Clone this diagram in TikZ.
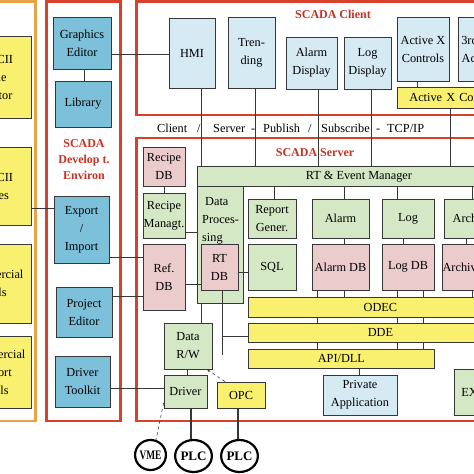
\documentclass[tikz,border=0pt]{standalone}
\usepackage{fontspec}
\setmainfont{Liberation Serif}
\usetikzlibrary{arrows.meta,shapes.geometric}
\definecolor{panred}{RGB}{214,66,44}
\definecolor{titred}{RGB}{200,50,35}
\definecolor{panor}{RGB}{232,162,72}
\definecolor{devblue}{RGB}{125,192,217}
\definecolor{cliblue}{RGB}{214,234,243}
\definecolor{yel}{RGB}{248,240,110}
\definecolor{grn}{RGB}{213,232,197}
\definecolor{pnk}{RGB}{235,203,203}
\definecolor{edgec}{RGB}{55,55,55}
\begin{document}
\begin{tikzpicture}[x=1pt,y=-1pt,
  font=\fontsize{12.3}{18}\selectfont,
  bx/.style 2 args={draw=edgec,line width=0.8pt,inner sep=0pt,align=center,minimum width=#1pt,minimum height=#2pt},
  ybox/.style={fill=yel},
  dbox/.style={fill=devblue},
  cbox/.style={fill=cliblue},
  gbox/.style={fill=grn},
  pbox/.style={fill=pnk},
  panel/.style={draw=panred,line width=2.6pt},
  orpanel/.style={draw=panor,line width=2.6pt},
  ttl/.style={font=\fontsize{12}{16}\selectfont\bfseries,text=titred,inner sep=0pt,align=center},
  conn/.style={draw=edgec,line width=0.8pt},
  wd/.style={inner sep=0pt,anchor=base west},
  circ/.style={draw=black,line width=2.2pt,ellipse,inner sep=0pt,fill=white,font=\fontsize{13}{15}\selectfont\bfseries}
]
\fill[white] (0,0) rectangle (474,474);
\useasboundingbox (0,0) rectangle (474,474);
\clip (0,0) rectangle (474,474);

% ---------- left panel ----------
\draw[orpanel] (-60,1.5) rectangle (35.5,421);
\node[bx={68}{82},ybox] (l1) at (-3,77) {ASCII\\File\\Editor};
\node[bx={68}{78},ybox] (l2) at (-3,186) {ASCII\\Files};
\node[bx={76}{79},ybox] (l3) at (-7,283.5) {Commercial\\Tools};
\node[bx={72}{72},ybox] (l4) at (-5,372) {Commercial\\Report\\Tools};

% ---------- development panel ----------
\draw[panel] (46.5,1.5) rectangle (120.5,421);
\node[bx={58}{52},dbox] (ge) at (82,43) {Graphics\\Editor};
\node[bx={56}{46},dbox] (lib) at (83,104) {Library};
\node[ttl] (devt) at (84,160) {SCADA\\Develop t.\\Environ};
\node[bx={55}{67},dbox] (exp) at (81.5,229.5) {Export\\/\\Import};
\node[bx={56}{50},dbox] (proj) at (84,312) {Project\\Editor};
\node[bx={55}{51},dbox] (dtk) at (82.5,381.5) {Driver\\Toolkit};

% ---------- client panel ----------
\draw[panel] (136.5,1.5) rectangle (520,115);
\node[ttl] (clit) at (333,14) {SCADA Client};
\node[bx={46}{70},cbox] (hmi) at (192,53) {HMI};
\node[bx={47}{71},cbox] (trend) at (251.5,52.5) {Tren-\\ding};
\node[bx={51}{52},cbox] (ald) at (311.5,63) {Alarm\\Display};
\node[bx={47}{52},cbox] (lgd) at (367.5,63) {Log\\Display};
\node[bx={52}{64},cbox] (axc) at (423,49) {Active X\\Controls};
\node[bx={52}{64},cbox] (trd) at (484,49) {3rd Party\\Active X};
\node[bx={0}{21},ybox,text width=118pt,align=left,inner xsep=12pt,anchor=west] (axbar) at (397,97.5) {Active X Container};

% ---------- client/server text ----------
\node[wd] (w1) at (157,132.5) {Client};
\node[wd] (w2) at (197,132.5) {/};
\node[wd] (w3) at (213,132.5) {Server};
\node[wd] (w4) at (251,132.5) {-};
\node[wd] (w5) at (263,132.5) {Publish};
\node[wd] (w6) at (308,132.5) {/};
\node[wd] (w7) at (321,132.5) {Subscribe};
\node[wd] (w8) at (376,132.5) {-};
\node[wd] (w9) at (387,132.5) {TCP/IP};

% ---------- server panel ----------
\draw[panel] (136.5,138) rectangle (520,421);
\node[ttl] (srvt) at (315,153) {SCADA Server};
\node[bx={324}{20},gbox,anchor=north west] (rt) at (196.5,166) {RT \& Event Manager};
\node[bx={46.5}{117},gbox,anchor=north west] (dp) at (196.5,186) {};
\node[inner sep=0pt,align=left,anchor=north west] (dptxt) at (202,197) {\hspace*{3pt}Data\\Proces-\\sing};
\node[bx={37}{46},pbox] (rdb) at (219.5,267) {RT\\DB};
\node[bx={42}{39},pbox] (recdb) at (164,166.5) {Recipe\\DB};
\node[bx={42}{45},gbox] (recm) at (164,215.5) {Recipe\\Managt.};
\node[bx={42}{66},pbox] (refdb) at (164,277) {Ref.\\DB};
\node[bx={48}{39},gbox] (rpt) at (272,218.5) {Report\\Gener.};
\node[bx={48}{46},gbox] (sql) at (272,267) {SQL};
\node[bx={57}{39},gbox] (alarm) at (340.5,218.5) {Alarm};
\node[bx={52}{39},gbox] (log) at (408,218.5) {Log};
\node[bx={57}{39},gbox] (arch) at (472.5,218.5) {Archive};
\node[bx={57}{46},pbox] (aldb) at (340.5,267) {Alarm DB};
\node[bx={52}{46},pbox] (logdb) at (408,267) {Log DB};
\node[bx={57}{46},pbox] (archdb) at (472.5,267) {Archive DB};
\node[bx={264}{20},ybox,anchor=north west] (odec) at (248,297) {ODEC};
\node[bx={264}{19},ybox,anchor=north west] (dde) at (248,323) {DDE};
\node[bx={186}{19},ybox,anchor=north west] (api) at (248,349) {API/DLL};
\node[bx={74}{40},cbox] (pa) at (360,395) {Private\\Application};
\node[bx={0}{46},gbox,text width=52pt,align=left,inner xsep=7pt,anchor=north west] (ex) at (454,369) {EXCEL};
\node[bx={48}{46},gbox] (drw) at (188,346) {Data\\R/W};
\node[bx={43}{33},gbox] (drv) at (185.5,391.5) {Driver};
\node[bx={48}{26},ybox] (opc) at (241,395) {OPC};

% ---------- field devices ----------
\node[circ,minimum width=25pt,minimum height=30pt] (vme) at (150.5,455) {\scalebox{0.72}[1]{VME}};
\node[circ,minimum width=35pt,minimum height=32pt] (plc1) at (193.5,456) {PLC};
\node[circ,minimum width=35pt,minimum height=32pt] (plc2) at (239.5,456) {PLC};

% ---------- connectors ----------
\draw[conn] (ge.east |- 0,54) -- (hmi.west |- 0,54);
\draw[conn] (ge.south -| 84,0) -- (lib.north -| 84,0);
\draw[conn] (l2.east |- 0,208) -- (exp.west |- 0,208);
\draw[conn] (exp.east |- 0,257) -- (refdb.west |- 0,257);
\draw[conn] (proj.east |- 0,296) -- (refdb.west |- 0,296);
\draw[conn] (dtk.east |- 0,388) -- (drv.west |- 0,388);

\draw[conn] (hmi.south -| 201,0) -- (rt.north -| 201,0);
\draw[conn] (trend.south -| 255,0) -- (rt.north -| 255,0);
\draw[conn] (ald.south -| 318,0) -- (rt.north -| 318,0);
\draw[conn] (lgd.south -| 371,0) -- (rt.north -| 371,0);
\draw[conn] (axbar.south -| 450,0) -- (rt.north -| 450,0);
\draw[conn] (axc.south -| 417,0) -- (axbar.north -| 417,0);

\draw[conn] (recdb) -- (recm);
\draw[conn] (recm.east |- 0,232) -- (dp.west |- 0,232);
\draw[conn] (refdb.east |- 0,284) -- (rdb.west |- 0,284);
\draw[conn] (rdb.east |- 0,272) -- (sql.west |- 0,272);
\draw[conn] (rt.south -| 274,0) -- (rpt.north -| 274,0);
\draw[conn] (rt.south -| 344,0) -- (alarm.north -| 344,0);
\draw[conn] (rt.south -| 397,0) -- (log.north -| 397,0);
\draw[conn] (rt.south -| 472,0) -- (arch.north -| 472,0);
\draw[conn] (alarm.south -| 344,0) -- (aldb.north -| 344,0);
\draw[conn] (log.south -| 403,0) -- (logdb.north -| 403,0);
\draw[conn] (arch.south -| 466,0) -- (archdb.north -| 466,0);
\draw[conn] (aldb.south -| 317,0) -- (odec.north -| 317,0);
\draw[conn] (aldb.south -| 344,0) -- (odec.north -| 344,0);
\draw[conn] (logdb.south -| 397,0) -- (odec.north -| 397,0);
\draw[conn] (logdb.south -| 423,0) -- (odec.north -| 423,0);
\draw[conn] (archdb.south -| 472,0) -- (odec.north -| 472,0);
\foreach \xx in {317,397,423}{
  \draw[conn] (odec.south -| \xx,0) -- (dde.north -| \xx,0);
  \draw[conn] (dde.south -| \xx,0) -- (api.north -| \xx,0);
}
\draw[conn] (api.south -| 359,0) -- (pa.north -| 359,0);

\coordinate (rdbend) at (222,355);
\draw[conn] (rdb.south -| 222,0) -- (rdbend);
\draw[conn] (222,336) -- (dde.west |- 0,336);
\draw[conn] (dp.south -| 201,0) -- (drw.north -| 201,0);
\draw[conn] (drw.south -| 187,0) -- (drv.north -| 187,0);
\draw[edgec,line width=0.6pt,dashed,-{Stealth[length=3pt]}] (opc.north -| 225,0) -- (drw.south -| 207,0);
\draw[edgec,line width=0.6pt,dashed] (drv.west |- 0,403) -- (vme.70);
\draw[edgec,line width=1.4pt] (drv.south -| 191,0) -- (plc1.north -| 191,0);
\draw[edgec,line width=2.2pt] (opc.south -| 238,0) -- (plc2.north -| 238,0);
\end{tikzpicture}
\end{document}
